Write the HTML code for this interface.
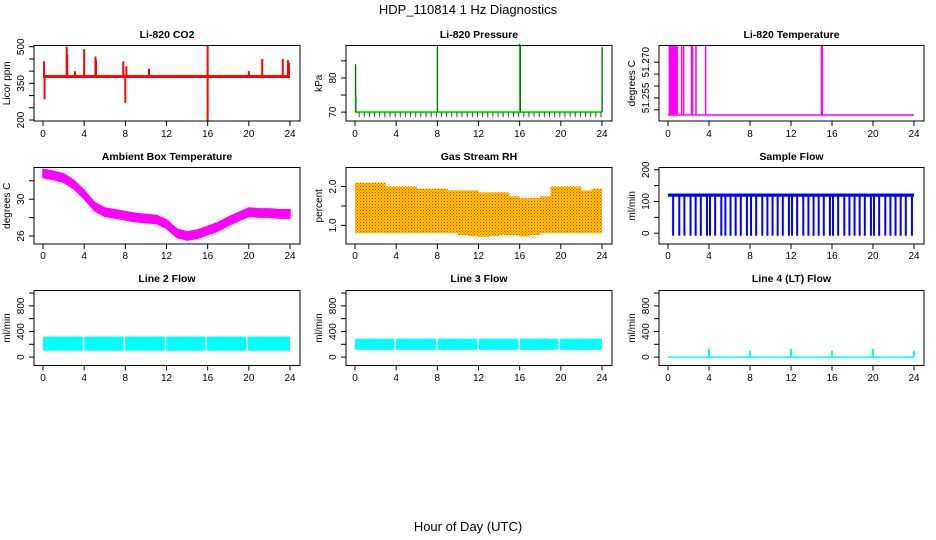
<!DOCTYPE html>
<html><head><meta charset="utf-8"><style>
body{margin:0;background:#fff}
svg{display:block;font-family:"Liberation Sans",sans-serif}
</style></head><body>
<svg id="c" width="936" height="540" viewBox="0 0 936 540" xmlns="http://www.w3.org/2000/svg">
<defs><pattern id="rhp" width="3" height="3" patternUnits="userSpaceOnUse"><rect width="3" height="3" fill="#ffd000"/><rect width="1" height="1" fill="#ff2000"/><rect x="1.5" y="1.5" width="1" height="1" fill="#ff2000"/></pattern></defs>
<text x="468" y="14" text-anchor="middle" font-size="13">HDP_110814  1 Hz Diagnostics</text>
<text x="468" y="531" text-anchor="middle" font-size="13">Hour of Day (UTC)</text>
<g id="g"></g>
</svg>
<script>
const hourTicks=[0,4,8,12,16,20,24];
// CO2
const co2Base=378;
const co2SpikeHours=[0.1,0.15,2.3,2.35,3.1,4.0,5.1,5.15,7.8,8.0,8.1,10.3,16.0,16.0,20.0,21.3,23.3,23.8,23.9];
const co2SpikeVals=[440,285,500,470,400,490,460,445,440,270,420,410,505,195,400,450,450,445,435];
// Pressure
const presBase=70;
const presDipHours=[0.4,0.9,1.4,1.9,2.4,2.9,3.4,3.9,4.4,4.9,5.4,5.9,6.4,6.9,7.4,7.9,8.4,8.9,9.4,9.9,10.4,10.9,11.4,11.9,12.4,12.9,13.4,13.9,14.4,14.9,15.4,15.9,16.4,16.9,17.4,17.9,18.4,18.9,19.4,19.9,20.4,20.9,21.4,21.9,22.4,22.9,23.4,23.9];
const presSpikeHours=[0.05,0.08,8.0,16.0,16.05,24.0];
const presSpikeVals=[84,75,89.5,90,89.5,89];
// Li-820 temperature
const tempBase=51.2478;
const tempBlock=[0.06,0.97];
const tempSpikeHours=[1.33,1.53,2.3,2.4,2.73,3.67,14.97,15.03,15.06];
const tempTop=51.277;
// Ambient
const ambHours=[0,1,2,3,4,5,6,7,8,9,10,11,12,13,14,15,16,17,18,19,20,21,22,23,24];
const ambVals=[32.8,32.6,32.3,31.6,30.5,29.2,28.6,28.4,28.2,28.0,27.9,27.8,27.3,26.3,26.0,26.2,26.6,27.0,27.6,28.1,28.6,28.5,28.5,28.4,28.4];
// RH
const rhHours=[0,1,2,3,4,5,6,7,8,9,10,11,12,13,14,15,16,17,18,19,20,21,22,23,24];
const rhUpper=[2.1,2.1,2.1,2.0,2.0,2.0,1.95,1.95,1.95,1.9,1.9,1.9,1.85,1.85,1.85,1.75,1.7,1.7,1.75,2.0,2.0,2.0,1.9,1.95,1.9];
const rhLower=[0.8,0.8,0.8,0.8,0.8,0.8,0.8,0.8,0.8,0.8,0.75,0.72,0.7,0.72,0.75,0.75,0.72,0.75,0.8,0.8,0.8,0.8,0.8,0.8,0.85];
// Sample flow
const flowBase=120;
const flowDipHours=[0.5,1.1,1.6,2.2,2.7,3.2,3.8,4.1,4.6,5.2,5.6,6.1,6.6,7.1,7.7,8.1,8.6,9.2,9.7,10.2,10.7,11.2,11.8,12.1,12.6,13.2,13.7,14.2,14.7,15.2,15.8,16.1,16.6,17.2,17.7,18.2,18.7,19.2,19.8,20.1,20.6,21.2,21.7,22.2,22.7,23.2,23.8];
const flowDipVal=-8;
// Line flows
const l2Upper=320, l2Lower=100, l2Gaps=[3.95,7.9,11.9,15.85,19.8];
const l3Upper=286, l3Lower=114, l3Gaps=[3.9,7.95,11.95,15.95,19.85];
const l4SpikeHours=[4,8,12,16,20,24];
const l4SpikeVals=[130,100,130,100,130,100];

const NS="http://www.w3.org/2000/svg";
const G=document.getElementById('g');
function mk(tag,attrs,parent){const e=document.createElementNS(NS,tag);for(const k in attrs)e.setAttribute(k,attrs[k]);(parent||G).appendChild(e);return e;}
const cols=[{b0:34,b1:300,h0:43,h24:290},{b0:346,b1:612,h0:355,h24:602},{b0:659,b1:924,h0:668,h24:914}];
const rows=[{t:45.5,b:121,title:34,lab:133},{t:167.5,b:244,title:156,lab:255},{t:290.5,b:365.5,title:278,lab:377}];
function panel(r,c,title,ytitle,vmin,vmax,ticks,labels,name){
  const R=rows[r],C=cols[c];
  const g=mk('g',{});
  
  
  const x=h=>C.h0+h*(C.h24-C.h0)/24;
  const y=v=>R.b-(v-vmin)/(vmax-vmin)*(R.b-R.t);
  const tt=mk('text',{x:(C.b0+C.b1)/2,y:R.title+4,'text-anchor':'middle','font-size':10.5,'font-weight':'bold'},g);tt.textContent=title;
  
  
  const data=mk('g',{},g);
  
  
  const box=mk('rect',{x:C.b0,y:R.t,width:C.b1-C.b0,height:R.b-R.t,fill:'none',stroke:'#000','stroke-width':1},g);
  
  
  const xa=mk('g',{},g);
  
  
  mk('line',{x1:x(0),x2:x(24),y1:R.b,y2:R.b,stroke:'#000'},xa);
  hourTicks.forEach(h=>{mk('line',{x1:x(h),x2:x(h),y1:R.b,y2:R.b+5,stroke:'#000'},xa);
    const t=mk('text',{x:x(h),y:R.lab+4,'text-anchor':'middle','font-size':10},xa);t.textContent=h;});
  const ya=mk('g',{},g);
  
  
  ticks.forEach(v=>{mk('line',{x1:C.b0-5,x2:C.b0,y1:y(v),y2:y(v),stroke:'#000'},ya);});
  labels.forEach(l=>{const t=mk('text',{x:C.b0-10,y:y(l[0]),'text-anchor':'middle','font-size':10,transform:`rotate(-90 ${C.b0-10} ${y(l[0])})`},ya);t.textContent=l[1];});
  const yt=mk('text',{x:C.b0-24,y:(R.t+R.b)/2,'text-anchor':'middle','font-size':10,transform:`rotate(-90 ${C.b0-24} ${(R.t+R.b)/2})`},ya);yt.textContent=ytitle;
  
  
  return {x,y,g:data};
}
function vline(p,h,v0,v1,col,w){mk('line',{x1:p.x(h),x2:p.x(h),y1:p.y(v0),y2:p.y(v1),stroke:col,'stroke-width':w||1},p.g);}

// CO2
let p=panel(0,0,'Li-820 CO2','Licor ppm',196,505,[200,250,300,350,400,450,500],[[200,'200'],[350,'350'],[500,'500']],'co2');
mk('rect',{x:p.x(0),y:p.y(co2Base+6),width:p.x(24)-p.x(0),height:p.y(co2Base-6)-p.y(co2Base+6),fill:'#ff0000'},p.g);
co2SpikeHours.forEach((h,i)=>vline(p,h,co2Base,co2SpikeVals[i],'#ff0000',2));
// Pressure
p=panel(0,1,'Li-820 Pressure','kPa',67.4,89.5,[70,75,80,85],[[70,'70'],[80,'80']],'pressure');
mk('line',{x1:p.x(0),x2:p.x(24),y1:p.y(presBase),y2:p.y(presBase),stroke:'#00ee00','stroke-width':2},p.g);
presDipHours.forEach(h=>vline(p,h,presBase,68.5,'#444',1));
presSpikeHours.forEach((h,i)=>{vline(p,h,presBase,presSpikeVals[i],'#00dd00',1.5);vline(p,h+0.02,presBase,presSpikeVals[i],'#222',0.7);});
// Li-820 temperature
p=panel(0,2,'Li-820 Temperature','degrees C',tempBase-0.0025,tempTop,[51.250,51.255,51.260,51.265,51.270],[[51.255,'51.255'],[51.270,'51.270']],'li820-temperature');
mk('line',{x1:p.x(0),x2:p.x(24),y1:p.y(tempBase),y2:p.y(tempBase),stroke:'#ff00ff','stroke-width':1.5},p.g);
mk('rect',{x:p.x(tempBlock[0]),y:p.y(tempTop),width:p.x(tempBlock[1])-p.x(tempBlock[0]),height:p.y(tempBase)-p.y(tempTop),fill:'#ff00ff'},p.g);
tempSpikeHours.forEach(h=>vline(p,h,tempBase,tempTop,'#ff00ff',1.5));
// Ambient
p=panel(1,0,'Ambient Box Temperature','degrees C',25.13,33.45,[26,28,30,32],[[26,'26'],[30,'30']],'ambient-temperature');
{let up=ambHours.map((h,i)=>p.x(h)+','+p.y(ambVals[i]+0.45)),dn=ambHours.map((h,i)=>p.x(h)+','+p.y(ambVals[i]-0.45)).reverse();
mk('polygon',{points:up.concat(dn).join(' '),fill:'#ff00ff',stroke:'#ff00ff','stroke-width':1.5},p.g);}
// RH
p=panel(1,1,'Gas Stream RH','percent',0.52,2.49,[1.0,1.5,2.0],[[1.0,'1.0'],[2.0,'2.0']],'gas-stream-rh');
{let up=[],dn=[];rhHours.forEach((h,i)=>{if(i<rhHours.length-1){up.push(p.x(h)+','+p.y(rhUpper[i]),p.x(rhHours[i+1])+','+p.y(rhUpper[i]));dn.push(p.x(h)+','+p.y(rhLower[i]),p.x(rhHours[i+1])+','+p.y(rhLower[i]));}});
mk('polygon',{points:up.concat(dn.reverse()).join(' '),fill:'url(#rhp)'},p.g);}
// Sample flow
p=panel(1,2,'Sample Flow','ml/min',-34,207,[0,50,100,150,200],[[0,'0'],[100,'100'],[200,'200']],'sample-flow');
mk('rect',{x:p.x(0),y:p.y(flowBase+5),width:p.x(24)-p.x(0),height:p.y(flowBase-5)-p.y(flowBase+5),fill:'#0000ff'},p.g);
flowDipHours.forEach(h=>vline(p,h,flowBase,flowDipVal,'#0000ff',2));
// Line 2
p=panel(2,0,'Line 2 Flow','ml/min',-131,1040,[0,200,400,600,800,1000],[[0,'0'],[400,'400'],[800,'800']],'line2-flow');
mk('rect',{x:p.x(0),y:p.y(l2Upper),width:p.x(24)-p.x(0),height:p.y(l2Lower)-p.y(l2Upper),fill:'#00ffff'},p.g);
l2Gaps.forEach(h=>vline(p,h,l2Lower-5,l2Upper+5,'#fff',1.5));
// Line 3
p=panel(2,1,'Line 3 Flow','ml/min',-131,1040,[0,200,400,600,800,1000],[[0,'0'],[400,'400'],[800,'800']],'line3-flow');
mk('rect',{x:p.x(0),y:p.y(l3Upper),width:p.x(24)-p.x(0),height:p.y(l3Lower)-p.y(l3Upper),fill:'#00ffff'},p.g);
l3Gaps.forEach(h=>vline(p,h,l3Lower-5,l3Upper+5,'#fff',1.5));
// Line 4
p=panel(2,2,'Line 4 (LT) Flow','ml/min',-131,1040,[0,200,400,600,800,1000],[[0,'0'],[400,'400'],[800,'800']],'line4-flow');
mk('line',{x1:p.x(0),x2:p.x(24),y1:p.y(0),y2:p.y(0),stroke:'#00ffff','stroke-width':1.5},p.g);
l4SpikeHours.forEach((h,i)=>vline(p,h,0,l4SpikeVals[i],'#00ffff',2));
</script>
</body></html>
